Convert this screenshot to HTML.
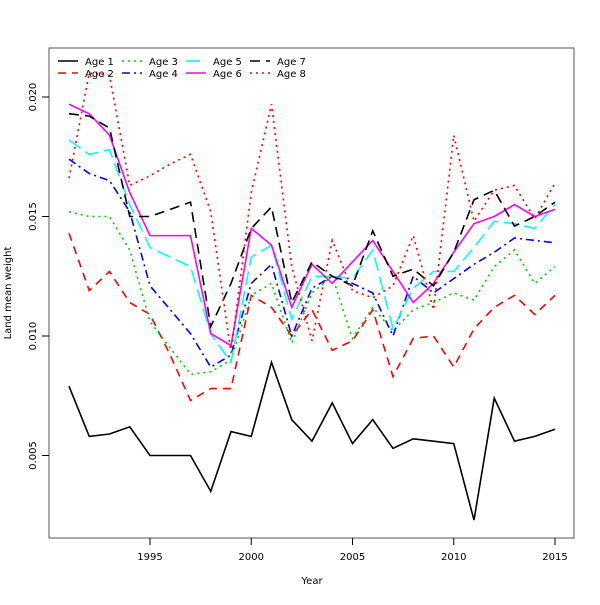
<!DOCTYPE html>
<html><head><meta charset="utf-8"><style>
body{margin:0;background:#fff}
svg{font-family:"DejaVu Sans","Liberation Sans",sans-serif}
</style></head><body>
<svg id="c" width="600" height="600" xmlns="http://www.w3.org/2000/svg">
<rect x="0" y="0" width="600" height="600" fill="#fff"/>
<g id="plot"></g>
</svg>
<script>
const years=[1991,1992,1993,1994,1995,1996,1997,1998,1999,2000,2001,2002,2003,2004,2005,2006,2007,2008,2009,2010,2011,2012,2013,2014,2015];
const age1=[0.0079,0.0058,0.0059,0.0062,0.0050,0.0050,0.0050,0.0035,0.0060,0.0058,0.0089,0.0065,0.0056,0.0072,0.0055,0.0065,0.0053,0.0057,0.0056,0.0055,0.0023,0.0074,0.0056,0.0058,0.0061];
const age2=[0.0143,0.0119,0.0127,0.0114,0.0109,0.0092,0.0073,0.0078,0.0078,0.0117,0.0112,0.0100,0.0111,0.0094,0.0098,0.0111,0.0083,0.0099,0.0100,0.0087,0.0103,0.0112,0.0117,0.0109,0.0117];
const age3=[0.0152,0.0150,0.0150,0.0136,0.0106,0.0095,0.0084,0.0085,0.0090,0.0117,0.0122,0.0097,0.0118,0.0125,0.0099,0.0112,0.0102,0.0111,0.0114,0.0118,0.0115,0.0129,0.0136,0.0122,0.0129];
const age4=[0.0174,0.0168,0.0165,0.0152,0.0121,0.0111,0.0101,0.0087,0.0092,0.0122,0.0130,0.0100,0.0120,0.0125,0.0122,0.0118,0.0100,0.0125,0.0118,0.0124,0.0130,0.0135,0.0141,0.0140,0.0139];
const age5=[0.0182,0.0176,0.0178,0.0155,0.0137,0.0133,0.0129,0.0101,0.0089,0.0133,0.0138,0.0107,0.0125,0.0125,0.0124,0.0136,0.0103,0.0120,0.0127,0.0127,0.0137,0.0148,0.0147,0.0145,0.0155];
const age6=[0.0197,0.0193,0.0184,0.0160,0.0142,0.0142,0.0142,0.0101,0.0096,0.0145,0.0138,0.0112,0.0130,0.0122,0.0131,0.0140,0.0127,0.0114,0.0122,0.0135,0.0147,0.0150,0.0155,0.0150,0.0153];
const age7=[0.0193,0.0192,0.0187,0.0150,0.0150,0.0153,0.0156,0.0104,0.0122,0.0145,0.0154,0.0114,0.0131,0.0125,0.0121,0.0144,0.0125,0.0128,0.0121,0.0135,0.0157,0.0161,0.0146,0.0150,0.0156];
const age8=[0.0166,0.0210,0.0209,0.0163,0.0167,0.0172,0.0176,0.0152,0.0093,0.0160,0.0197,0.0129,0.0098,0.0140,0.0119,0.0116,0.0121,0.0142,0.0111,0.0184,0.0148,0.0161,0.0163,0.0149,0.0164];
const seriesNames=["Age 1","Age 2","Age 3","Age 4","Age 5","Age 6","Age 7","Age 8"];
const xTicks=[1995,2000,2005,2010,2015];
const yTicks=[0.005,0.010,0.015,0.020];

const NS="http://www.w3.org/2000/svg";
const g=document.getElementById('plot');
const X=v=>150+(v-1995)*20.25;
const Y=v=>336-(v-0.010)*23900;
function el(t,a,p){const e=document.createElementNS(NS,t);for(const k in a)e.setAttribute(k,a[k]);(p||g).appendChild(e);return e;}
const series=[age1,age2,age3,age4,age5,age6,age7,age8];
const styles=[["#000",""],["#f00","8,6"],["#00cd00","2,4"],["#00f","8,4,2,4"],["#0ff","14,6"],["#f0f",""],["#000","10,6"],["#f00","2,4"]];
series.forEach((s,i)=>{
  const p=el('polyline',{points:s.map((v,j)=>X(years[j])+','+Y(v)).join(' '),fill:'none',stroke:styles[i][0],'stroke-width':1.6,'stroke-dasharray':styles[i][1]});
  
  
});
const frame=el('rect',{x:49,y:48,width:525,height:490,fill:'none',stroke:'#555','stroke-width':1});


xTicks.forEach(t=>{
  el('line',{x1:X(t),x2:X(t),y1:538,y2:545,stroke:'#000'});
  const tx=el('text',{x:X(t),y:560,'font-size':10,'text-anchor':'middle'});tx.textContent=t;
  
  
});
yTicks.forEach(t=>{
  el('line',{x1:42,x2:49,y1:Y(t),y2:Y(t),stroke:'#000'});
  const tx=el('text',{x:36,y:Y(t),'font-size':10,'text-anchor':'middle',transform:`rotate(-90 36 ${Y(t)})`});tx.textContent=t.toFixed(3);
  
  
});
const xt=el('text',{x:312,y:584,'font-size':10,'text-anchor':'middle'});xt.textContent='Year';


const yt=el('text',{x:11,y:293,'font-size':10,'text-anchor':'middle',transform:'rotate(-90 11 293)'});yt.textContent='Land mean weight';


seriesNames.forEach((n,i)=>{
  const col=Math.floor(i/2),row=i%2;
  const lx=58+col*64,ly=61+row*12;
  const lg=el('g',{});
  
  
  el('line',{x1:lx,x2:lx+20,y1:ly,y2:ly,stroke:styles[i][0],'stroke-width':1.6,'stroke-dasharray':styles[i][1]},lg);
  const t=el('text',{x:lx+27,y:ly+4,'font-size':10},lg);t.textContent=n;
});
</script>
</body></html>
